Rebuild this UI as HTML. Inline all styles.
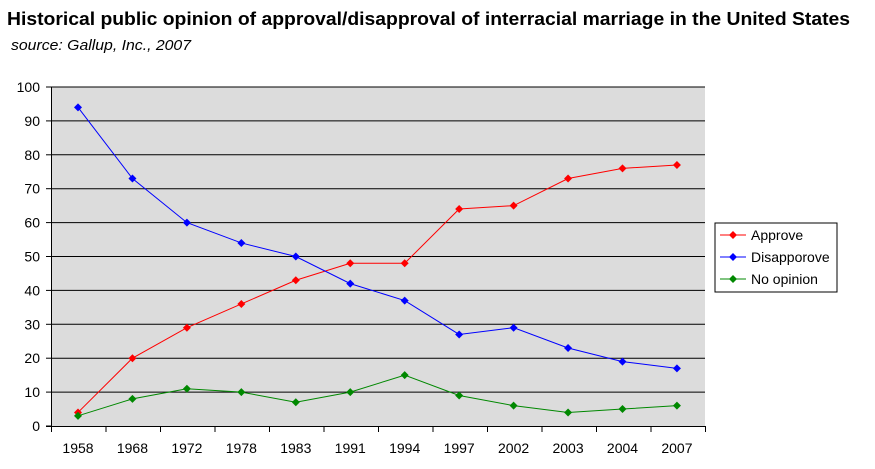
<!DOCTYPE html>
<html><head><meta charset="utf-8"><style>
body{margin:0;background:#fff;width:875px;height:464px;overflow:hidden;font-family:"Liberation Sans",Arial,sans-serif}
</style></head><body>
<svg id="s" width="875" height="464" xmlns="http://www.w3.org/2000/svg" font-family="Liberation Sans, Arial, sans-serif">
<text x="7" y="25" font-size="18" font-weight="bold" fill="#000" textLength="843" lengthAdjust="spacingAndGlyphs">Historical public opinion of approval/disapproval of interracial marriage in the United States</text>
<text x="11" y="50" font-size="15" font-style="italic" fill="#000" textLength="180" lengthAdjust="spacingAndGlyphs">source: Gallup, Inc., 2007</text>
<rect x="51" y="87" width="654" height="339" fill="#dcdcdc"/>
<g id="g"></g>
<rect x="715" y="223" width="122" height="69" fill="#fff" stroke="#000" stroke-width="1"/>
<line x1="720" y1="235" x2="746" y2="235" stroke="#f00"/><path d="M733 231l4 4-4 4-4-4z" fill="#f00"/>
<text x="751" y="240" font-size="14">Approve</text>
<line x1="720" y1="257" x2="746" y2="257" stroke="#00f"/><path d="M733 253l4 4-4 4-4-4z" fill="#00f"/>
<text x="751" y="262" font-size="14">Disapporove</text>
<line x1="720" y1="279" x2="746" y2="279" stroke="#080"/><path d="M733 275l4 4-4 4-4-4z" fill="#080"/>
<text x="751" y="284" font-size="14">No opinion</text>
</svg>
<script>
var g=document.getElementById('g'),h='';
function Y(v){return 426-3.39*v}
for(var v=10;v<=100;v+=10)h+='<line x1="51" x2="705" y1="'+Y(v)+'" y2="'+Y(v)+'" stroke="#000" stroke-width="1"/>';
h+='<line x1="51.5" x2="51.5" y1="87" y2="426" stroke="#000"/><line x1="46" x2="705" y1="426.5" y2="426.5" stroke="#000"/>';
for(var v=0;v<=100;v+=10){h+='<line x1="46" x2="51" y1="'+Y(v)+'" y2="'+Y(v)+'" stroke="#000"/><text x="40" y="'+(Y(v)+5)+'" font-size="14" text-anchor="end">'+v+'</text>';}
var yrs=[1958,1968,1972,1978,1983,1991,1994,1997,2002,2003,2004,2007];
function X(i){return 78+54.45*i}
for(var i=0;i<=12;i++){var x=51.5+54.5*i;h+='<line x1="'+x+'" x2="'+x+'" y1="426" y2="432" stroke="#000"/>';}
yrs.forEach(function(y,i){h+='<text x="'+X(i)+'" y="453" font-size="14" text-anchor="middle">'+y+'</text>'});
var S=[[[4,20,29,36,43,48,48,64,65,73,76,77],'#f00'],[[94,73,60,54,50,42,37,27,29,23,19,17],'#00f'],[[3,8,11,10,7,10,15,9,6,4,5,6],'#080']];
S.forEach(function(s){var p=s[0].map(function(v,i){return X(i)+','+Y(v)}).join(' ');
h+='<polyline points="'+p+'" fill="none" stroke="'+s[1]+'" stroke-width="1"/>';
s[0].forEach(function(v,i){var x=X(i),y=Y(v);h+='<path d="M'+x+' '+(y-4)+'l4 4-4 4-4-4z" fill="'+s[1]+'"/>'});});
g.innerHTML=h;
</script>
</body></html>
